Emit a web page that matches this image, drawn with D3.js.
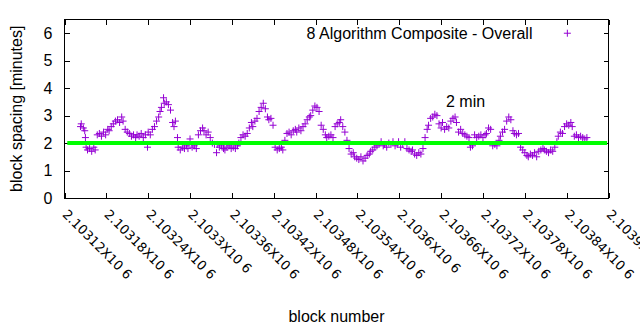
<!DOCTYPE html>
<html>
<head>
<meta charset="utf-8">
<script src="https://cdn.jsdelivr.net/npm/d3@7/dist/d3.min.js"></script>
<style>
  html, body { margin: 0; padding: 0; background: #fff; }
  svg { display: block; }
</style>
</head>
<body>
<div id="chart"></div>
<script>
// block heights (x) and the measured spacing in minutes (y)
const blocks = [
  2103143, 2103144, 2103147, 2103149, 2103150, 2103151, 2103153, 2103156, 2103159, 2103162,
  2103164, 2103167, 2103170, 2103173, 2103176, 2103179, 2103182, 2103184, 2103187, 2103190,
  2103193, 2103196, 2103199, 2103202, 2103204, 2103207, 2103210, 2103213, 2103216, 2103219,
  2103222, 2103224, 2103227, 2103230, 2103233, 2103236, 2103239, 2103240, 2103243, 2103246,
  2103249, 2103252, 2103255, 2103257, 2103259, 2103262, 2103263, 2103266, 2103269, 2103272,
  2103275, 2103277, 2103279, 2103282, 2103283, 2103286, 2103289, 2103292, 2103295, 2103297,
  2103300, 2103303, 2103306, 2103309, 2103312, 2103315, 2103318, 2103320, 2103323, 2103326,
  2103329, 2103332, 2103335, 2103338, 2103339, 2103342, 2103345, 2103348, 2103350, 2103353,
  2103356, 2103359, 2103362, 2103365, 2103368, 2103370, 2103373, 2103376, 2103379, 2103382,
  2103385, 2103388, 2103390, 2103393, 2103396, 2103399, 2103402, 2103405, 2103408, 2103411,
  2103413, 2103416, 2103419, 2103422, 2103425, 2103428, 2103431, 2103433, 2103436, 2103439,
  2103442, 2103445, 2103448, 2103451, 2103453, 2103456, 2103459, 2103462, 2103465, 2103468,
  2103471, 2103473, 2103476, 2103479, 2103482, 2103485, 2103488, 2103491, 2103494, 2103496,
  2103499, 2103502, 2103505, 2103508, 2103511, 2103514, 2103516, 2103519, 2103522, 2103525,
  2103528, 2103531, 2103534, 2103536, 2103539, 2103542, 2103545, 2103548, 2103551, 2103554,
  2103557, 2103559, 2103562, 2103565, 2103568, 2103571, 2103574, 2103577, 2103579, 2103582,
  2103585, 2103588, 2103591, 2103594, 2103597, 2103599, 2103602, 2103605, 2103608, 2103611,
  2103614, 2103617, 2103619, 2103622, 2103625, 2103628, 2103631, 2103634, 2103637, 2103640,
  2103642, 2103645, 2103648, 2103651, 2103654, 2103657, 2103660, 2103662, 2103665, 2103668,
  2103671, 2103674, 2103677, 2103680, 2103682, 2103685, 2103688, 2103691, 2103694, 2103697,
  2103700, 2103702, 2103705, 2103708, 2103711, 2103714, 2103717, 2103720, 2103723, 2103725,
  2103728, 2103731, 2103734, 2103737, 2103740, 2103743, 2103745, 2103748, 2103751, 2103754,
  2103757, 2103760, 2103763, 2103765, 2103768, 2103771, 2103774, 2103777, 2103780, 2103783,
  2103785, 2103788, 2103791, 2103794, 2103797, 2103800, 2103803, 2103806, 2103808, 2103811,
  2103814, 2103817, 2103820, 2103823, 2103826, 2103828, 2103831, 2103834, 2103837, 2103840,
  2103843, 2103846, 2103848, 2103851, 2103854, 2103857, 2103860, 2103863, 2103866, 2103869
];
const spacing = [
  2.6, 2.7, 2.55, 2.45, 2.2, 1.85, 1.75, 1.8, 1.7, 1.85,
  1.75, 2.3, 2.35, 2.25, 2.4, 2.3, 2.5, 2.45, 2.6, 2.7,
  2.8, 2.85, 2.75, 2.95, 2.8, 2.5, 2.4, 2.35, 2.25, 2.3,
  2.2, 2.3, 2.25, 2.35, 2.2, 2.3, 1.85, 2.4, 2.3, 2.5,
  2.6, 2.8, 2.95, 3.15, 3.3, 3.65, 3.45, 3.5, 3.4, 3.2,
  2.75, 2.6, 2.8, 2.2, 1.85, 1.75, 1.85, 1.8, 1.9, 1.8,
  2.15, 1.85, 1.9, 1.8, 2.3, 2.45, 2.55, 2.45, 2.3, 2.4,
  2.2, 2.0, 1.95, 1.65, 1.95, 1.85, 1.9, 1.8, 1.75, 1.85,
  1.9, 1.8, 1.85, 1.8, 1.9, 2.0, 2.2, 2.3, 2.25, 2.35,
  2.55, 2.75, 2.6, 2.8, 2.9, 3.15, 3.3, 3.45, 3.25, 2.95,
  2.85, 2.9, 2.65, 1.85, 1.75, 1.8, 1.85, 1.75, 2.1, 2.35,
  2.4, 2.3, 2.45, 2.5, 2.4, 2.55, 2.45, 2.6, 2.7, 2.85,
  2.95, 3.0, 3.2, 3.35, 3.3, 3.15, 2.65, 2.5, 2.3, 2.2,
  2.25, 2.3, 2.2, 2.6, 2.7, 2.75, 2.85, 2.6, 2.4, 2.1,
  1.8, 1.6, 1.65, 1.5, 1.45, 1.4, 1.5, 1.35, 1.45, 1.55,
  1.6, 1.7, 1.75, 1.85, 1.9, 1.95, 2.05, 1.9, 1.95, 1.85,
  2.0, 1.95, 2.05, 1.9, 1.95, 2.05, 1.85, 1.95, 2.05, 1.8,
  1.75, 1.7, 1.75, 1.6, 1.55, 1.65, 1.6, 1.8, 2.2, 2.5,
  2.65, 2.9, 2.95, 3.05, 3.0, 2.7, 2.55, 2.75, 2.5, 2.6,
  2.55, 2.8, 2.9, 2.95, 2.75, 2.4, 2.5, 2.35, 2.3, 2.25,
  2.2, 1.85, 1.9, 2.3, 2.2, 2.25, 2.3, 2.2, 2.3, 2.35,
  2.55, 2.5, 1.9, 1.95, 1.9, 2.1, 2.25, 2.4, 2.5, 2.8,
  2.95, 2.85, 2.45, 2.35, 2.3, 2.35, 1.85, 1.75, 1.65, 1.55,
  1.5, 1.6, 1.55, 1.65, 1.5, 1.7, 1.75, 1.8, 1.75, 1.7,
  1.65, 1.75, 1.7, 1.85, 2.05, 2.25, 2.4, 2.35, 2.6, 2.7,
  2.65, 2.75, 2.6, 2.25, 2.3, 2.2, 2.25, 2.2, 2.15, 2.2
];

const xTicks = [2103120, 2103180, 2103240, 2103300, 2103360, 2103420, 2103480,
                2103540, 2103600, 2103660, 2103720, 2103780, 2103840, 2103900];
const yTicks = [0, 1, 2, 3, 4, 5, 6];
const xDomain = [2103120, 2103900];
const yDomain = [0, 6.5];

// 2 minute target line
const targetMinutes = 2;
const targetBlocks = [2103124, 2103898];
const targetLabel = '2 min';
const seriesLabel = '8 Algorithm Composite - Overall';

(function () {
  'use strict';

  const W = 640, H = 330;
  const margin = { top: 19.5, right: 31.5, bottom: 132, left: 64.5 };
  const innerW = W - margin.left - margin.right;
  const innerH = H - margin.top - margin.bottom;

  const purple = '#9400d3';
  const green = '#00ff00';
  const sans = '"Liberation Sans", Arial, sans-serif';

  const svg = d3.select('#chart').append('svg')
    .attr('width', W)
    .attr('height', H);

  const g = svg.append('g').attr('transform', `translate(${margin.left},${margin.top})`);

  const x = d3.scaleLinear().domain(xDomain).range([0, innerW]);
  const y = d3.scaleLinear().domain(yDomain).range([innerH, 0]);

  const styleAxis = sel => {
    sel.select('.domain').remove();
    sel.selectAll('line').attr('stroke', '#000').attr('shape-rendering', 'crispEdges');
  };

  // x axis, ticks pointing inward, rotated labels
  g.append('g')
    .attr('transform', `translate(0,${innerH})`)
    .call(d3.axisBottom(x).tickValues(xTicks).tickSize(-5)
      .tickFormat(d => `${+(d / 1e6).toFixed(5)}X10 6`))
    .call(styleAxis)
    .call(sel => sel.selectAll('text')
      .attr('x', 0).attr('y', 0).attr('dy', '0.35em')
      .attr('transform', 'translate(0,14) rotate(45)')
      .attr('text-anchor', 'start')
      .attr('fill', '#000')
      .style('font-family', '"DejaVu Sans", sans-serif')
      .style('font-size', '13px'));

  // mirrored top ticks
  g.append('g')
    .call(d3.axisTop(x).tickValues(xTicks).tickSize(-5).tickFormat(''))
    .call(styleAxis);

  // y axis
  g.append('g')
    .call(d3.axisLeft(y).tickValues(yTicks).tickSize(-5).tickPadding(12).tickFormat(d3.format('d')))
    .call(styleAxis)
    .call(sel => sel.selectAll('text')
      .attr('fill', '#000')
      .style('font-family', sans)
      .style('font-size', '16px'));

  g.append('g')
    .attr('transform', `translate(${innerW},0)`)
    .call(d3.axisRight(y).tickValues(yTicks).tickSize(-5).tickFormat(''))
    .call(styleAxis);

  // points as gnuplot style crosses
  g.append('g')
    .selectAll('path')
    .data(blocks.map((b, i) => [b, spacing[i]]))
    .join('path')
    .attr('transform', d => `translate(${x(d[0])},${y(d[1])})`)
    .attr('d', 'M-3.5,0H3.5M0,-3.5V3.5')
    .attr('stroke', purple)
    .attr('stroke-width', 1)
    .attr('fill', 'none');

  // target line on top
  g.append('line')
    .attr('x1', x(targetBlocks[0]))
    .attr('x2', x(targetBlocks[1]))
    .attr('y1', y(targetMinutes))
    .attr('y2', y(targetMinutes))
    .attr('stroke', green)
    .attr('stroke-width', 4);

  // plot border
  g.append('rect')
    .attr('width', innerW)
    .attr('height', innerH)
    .attr('fill', 'none')
    .attr('stroke', '#000')
    .attr('stroke-width', 1)
    .attr('shape-rendering', 'crispEdges');

  // legend
  g.append('text')
    .attr('x', x(2103791))
    .attr('y', y(6))
    .attr('dy', '0.35em')
    .attr('text-anchor', 'end')
    .style('font-family', sans)
    .style('font-size', '16px')
    .text(seriesLabel);
  g.append('path')
    .attr('transform', `translate(${x(2103841)},${y(6)})`)
    .attr('d', 'M-3.5,0H3.5M0,-3.5V3.5')
    .attr('stroke', purple)
    .attr('fill', 'none');

  g.append('text')
    .attr('x', x(2103667))
    .attr('y', y(3.5))
    .attr('dy', '0.35em')
    .style('font-family', sans)
    .style('font-size', '16px')
    .text(targetLabel);

  // axis titles
  svg.append('text')
    .attr('transform', `translate(22,${margin.top + innerH / 2}) rotate(-90)`)
    .attr('text-anchor', 'middle')
    .style('font-family', sans)
    .style('font-size', '16px')
    .text('block spacing [minutes]');

  svg.append('text')
    .attr('x', margin.left + innerW / 2)
    .attr('y', 322)
    .attr('text-anchor', 'middle')
    .style('font-family', sans)
    .style('font-size', '16px')
    .text('block number');
})();
</script>
</body>
</html>
